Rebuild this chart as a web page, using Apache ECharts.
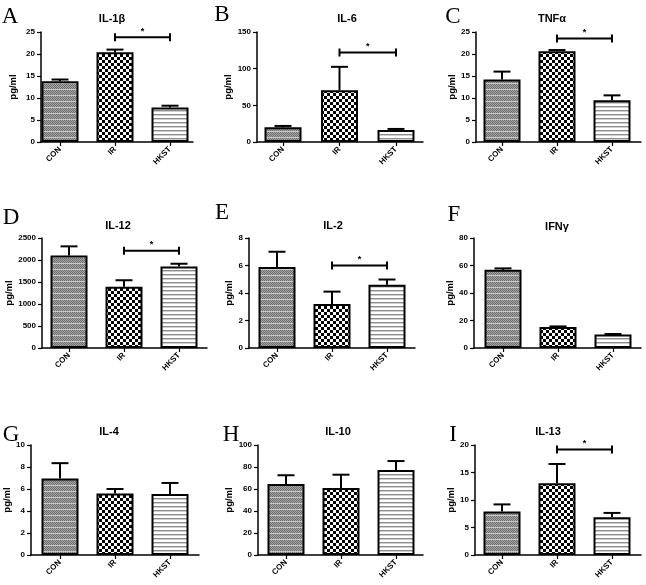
<!DOCTYPE html>
<html><head><meta charset="utf-8">
<script src="https://cdn.jsdelivr.net/npm/echarts@6/dist/echarts.min.js"></script>
<style>html,body{margin:0;padding:0;background:#fff}#c{width:646px;height:585px}</style>
</head><body><div id="c"></div>
<script>
// ---------- data ----------
const categories = ['CON', 'IR', 'HKST'];
const panelLetters = ['A', 'B', 'C', 'D', 'E', 'F', 'G', 'H', 'I'];
const panelTitles = ['IL-1β', 'IL-6', 'TNFα', 'IL-12', 'IL-2', 'IFNγ', 'IL-4', 'IL-10', 'IL-13'];
const yMax  = [25, 150, 25, 2500, 8, 80, 10, 100, 20];
const yStep = [5, 50, 5, 500, 2, 20, 2, 20, 5];

const meanIL1b = [13.8, 20.4, 7.85];   const semIL1b = [0.4, 0.6, 0.4];
const meanIL6  = [20.2, 70.5, 16.5];   const semIL6  = [1.7, 32, 1.3];
const meanTNFa = [14.2, 20.6, 9.5];    const semTNFa = [1.8, 0.3, 1.1];
const meanIL12 = [2100, 1390, 1855];   const semIL12 = [210, 150, 60];
const meanIL2  = [5.9, 3.2, 4.6];      const semIL2  = [1.1, 0.9, 0.38];
const meanIFNg = [57, 15.3, 9.9];      const semIFNg = [0.9, 0.4, 0.3];
const meanIL4  = [6.95, 5.6, 5.55];    const semIL4  = [1.4, 0.4, 1.0];
const meanIL10 = [64.5, 60.8, 77.2];   const semIL10 = [8, 12.2, 8.2];
const meanIL13 = [7.9, 13.05, 6.85];   const semIL13 = [1.3, 3.5, 0.8];

// significance bracket: from category, to category, height (null = none)
const sigFrom = [1, 1, 1, 1, 1, null, null, null, 1];
const sigTo   = [2, 2, 2, 2, 2, null, null, null, 2];
const sigY    = [23.8, 122, 23.5, 2210, 6.0, null, null, null, 19.2];
const sigLabel = '*';

const means = [meanIL1b, meanIL6, meanTNFa, meanIL12, meanIL2, meanIFNg, meanIL4, meanIL10, meanIL13];
const sems  = [semIL1b, semIL6, semTNFa, semIL12, semIL2, semIFNg, semIL4, semIL10, semIL13];

// ---------- layout (pixels) ----------
const axisX  = [41, 257, 476, 42, 249, 474, 31, 258, 475];
const firstX = [60, 283, 502, 69, 277, 503, 60, 286, 502];
const endX   = [193, 423, 641, 207, 415, 641, 199, 423, 641];
const unitW  = [55, 56.5, 55, 55, 55, 55, 55, 55, 55];
const rowTop = [32, 238, 445];
const plotH = 110;
const nameGaps = [23, 24, 16, 24, 12, 14, 13, 23, 17];
const titlePos = [[107,15],[342,15],[547,15],[113,222],[328,222],[552,223],[104,428],[333,428],[543,428]];
const letterPos = [[10,17],[222,15],[453,17],[11,218],[222,213],[454,215],[11,435],[231,435],[453,435]];

// ---------- patterns ----------
function pat(w, h, draw) {
  const c = document.createElement('canvas'); c.width = w; c.height = h;
  const g = c.getContext('2d'); draw(g); return { image: c, repeat: 'repeat' };
}
const patCON = pat(4, 6, g => {
  g.fillStyle = '#a4a4a4'; g.fillRect(0, 0, 4, 6);
  g.fillStyle = '#707070';
  for (let y = 0; y < 6; y++) for (let x = 0; x < 4; x++) if ((x + y) % 2 === 0) g.fillRect(x, y, 1, 1);
  g.fillStyle = '#c8c8c8'; g.fillRect(0, 5, 4, 1);
});
const patIR = pat(6, 6, g => {
  g.fillStyle = '#fff'; g.fillRect(0, 0, 6, 6);
  g.fillStyle = '#000'; g.fillRect(0, 0, 3, 3); g.fillRect(3, 3, 3, 3);
});
const patHK = pat(2, 4, g => {
  g.fillStyle = '#fff'; g.fillRect(0, 0, 2, 4);
  g.fillStyle = '#8c8c8c'; g.fillRect(0, 2, 2, 1);
  g.fillStyle = '#cfcfcf'; g.fillRect(0, 3, 2, 1);
});
const fills = [patCON, patIR, patHK];

const FONT = '"Liberation Sans", Arial, sans-serif';

const grids = [], xAxes = [], yAxes = [], series = [], titles = [], graphics = [];
for (let i = 0; i < 9; i++) {
  const row = Math.floor(i / 3);
  const u = unitW[i];
  grids.push({ left: axisX[i], top: rowTop[row], width: endX[i] - axisX[i], height: plotH });
  xAxes.push({
    type: 'value', gridIndex: i,
    min: -(firstX[i] - axisX[i]) / u, max: (endX[i] - firstX[i]) / u,
    axisLine: { show: true, onZero: false, lineStyle: { color: '#000', width: 1.5 } },
    axisTick: { show: true, customValues: [0, 1, 2], length: 4, lineStyle: { color: '#000', width: 1.2 } },
    axisLabel: { customValues: [0, 1, 2], formatter: v => categories[Math.round(v)], rotate: 45, margin: 6,
      fontSize: 8, fontWeight: 'bold', color: '#000', fontFamily: FONT },
    splitLine: { show: false }
  });
  yAxes.push({
    type: 'value', gridIndex: i, min: 0, max: yMax[i], interval: yStep[i],
    name: 'pg/ml', nameLocation: 'middle', nameGap: nameGaps[i],
    nameTextStyle: { fontSize: 9.5, fontWeight: 'bold', color: '#000', fontFamily: FONT },
    axisLine: { show: true, onZero: false, lineStyle: { color: '#000', width: 1.5 } },
    axisTick: { show: true, length: 4, lineStyle: { color: '#000', width: 1.2 } },
    axisLabel: { margin: 6, fontSize: 8, fontWeight: 'bold', color: '#000', fontFamily: FONT, formatter: v => String(v) },
    splitLine: { show: false }
  });
  series.push({
    type: 'bar', xAxisIndex: i, yAxisIndex: i, barWidth: 37, z: 2,
    data: means[i].map((m, k) => ({ value: [k, m], itemStyle: { color: fills[k], borderColor: '#000', borderWidth: 2 } })),
    emphasis: { disabled: true }, animation: false
  });
  series.push({
    type: 'custom', xAxisIndex: i, yAxisIndex: i, z: 3, animation: false,
    data: means[i].map((m, k) => [k, m, m + sems[i][k]]),
    renderItem: (params, api) => {
      const p0 = api.coord([api.value(0), api.value(1)]);
      const p1 = api.coord([api.value(0), api.value(2)]);
      const st = { stroke: '#000', lineWidth: 2 };
      return { type: 'group', children: [
        { type: 'line', shape: { x1: p0[0], y1: p0[1], x2: p1[0], y2: p1[1] }, style: st },
        { type: 'line', shape: { x1: p1[0] - 8.5, y1: p1[1], x2: p1[0] + 8.5, y2: p1[1] }, style: st }
      ] };
    }
  });
  if (sigY[i] !== null) {
    series.push({
      type: 'custom', xAxisIndex: i, yAxisIndex: i, z: 4, animation: false,
      data: [[sigFrom[i], sigTo[i], sigY[i]]],
      renderItem: (params, api) => {
        const a = api.coord([api.value(0), api.value(2)]);
        const b = api.coord([api.value(1), api.value(2)]);
        const st = { stroke: '#000', lineWidth: 2 };
        return { type: 'group', children: [
          { type: 'line', shape: { x1: a[0], y1: a[1], x2: b[0], y2: b[1] }, style: st },
          { type: 'line', shape: { x1: a[0], y1: a[1] - 4, x2: a[0], y2: a[1] + 4 }, style: st },
          { type: 'line', shape: { x1: b[0], y1: b[1] - 4, x2: b[0], y2: b[1] + 4 }, style: st },
          { type: 'text', style: { text: sigLabel, x: (a[0] + b[0]) / 2, y: a[1] - 6, textAlign: 'center', textVerticalAlign: 'middle',
              font: 'bold 9px ' + FONT, fill: '#000' } }
        ] };
      }
    });
  }
  titles.push({ text: panelTitles[i], left: titlePos[i][0], top: titlePos[i][1] - 7, textAlign: 'center',
    textStyle: { fontSize: 11, fontWeight: 'bold', color: '#000', fontFamily: FONT } });
  graphics.push({ type: 'text', x: letterPos[i][0], y: letterPos[i][1],
    style: { text: panelLetters[i], font: '23px "Liberation Serif", "Times New Roman", serif', fill: '#000',
      textAlign: 'center', textVerticalAlign: 'middle' } });
}

const chart = echarts.init(document.getElementById('c'), null, { renderer: 'canvas' });
chart.setOption({
  backgroundColor: '#fff', animation: false,
  title: titles, grid: grids, xAxis: xAxes, yAxis: yAxes, series: series, graphic: graphics
});
</script></body></html>
